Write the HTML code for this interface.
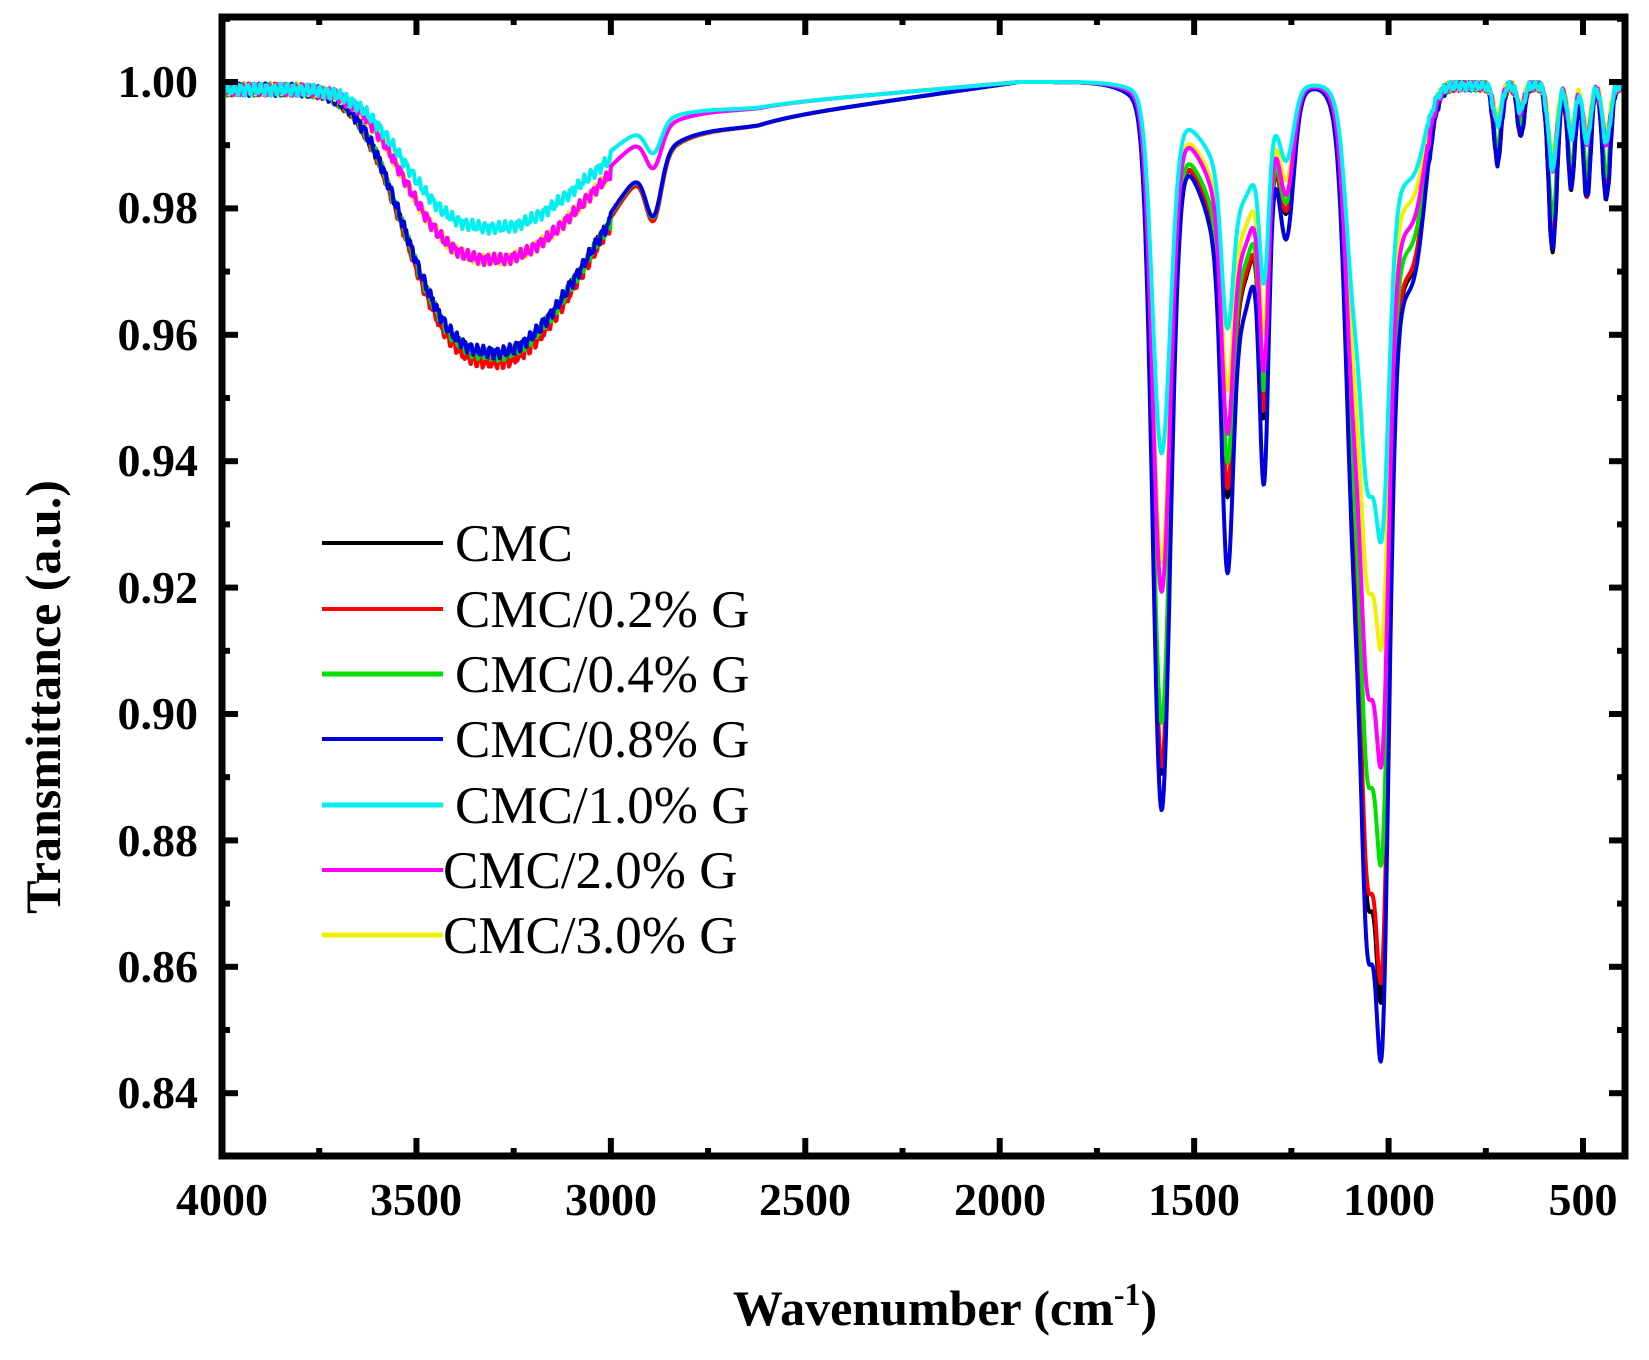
<!DOCTYPE html>
<html><head><meta charset="utf-8"><style>
html,body{margin:0;padding:0;background:#fff;}
svg{display:block;}
text{font-family:"Liberation Serif",serif;}
</style></head><body>
<svg id="s" width="1649" height="1360" viewBox="0 0 1649 1360" xmlns="http://www.w3.org/2000/svg">
<rect width="1649" height="1360" fill="#fff"/>
<g id="curves"></g>
<g id="axes"></g>
<g font-weight="bold" font-size="46" text-anchor="end" fill="#000">
<text x="198" y="97">1.00</text><text x="198" y="223">0.98</text><text x="198" y="350">0.96</text>
<text x="198" y="476">0.94</text><text x="198" y="603">0.92</text><text x="198" y="729">0.90</text>
<text x="198" y="856">0.88</text><text x="198" y="982">0.86</text><text x="198" y="1108">0.84</text>
</g>
<g font-weight="bold" font-size="46" text-anchor="middle" fill="#000">
<text x="222" y="1215">4000</text><text x="416" y="1215">3500</text><text x="611" y="1215">3000</text>
<text x="805" y="1215">2500</text><text x="1000" y="1215">2000</text><text x="1194" y="1215">1500</text>
<text x="1389" y="1215">1000</text><text x="1583" y="1215">500</text>
</g>
<text x="945" y="1325" font-weight="bold" font-size="50" text-anchor="middle">Wavenumber (cm<tspan dy="-20" font-size="32">-1</tspan><tspan dy="20">)</tspan></text>
<text transform="translate(60,697) rotate(-90)" font-weight="bold" font-size="50" text-anchor="middle">Transmittance (a.u.)</text>
<g font-size="53" fill="#000">
<line x1="322" y1="543" x2="443" y2="543" stroke="#000" stroke-width="4"/><text x="455" y="561">CMC</text>
<line x1="322" y1="609" x2="443" y2="609" stroke="#f00" stroke-width="4"/><text x="455" y="627">CMC/0.2% G</text>
<line x1="322" y1="674" x2="443" y2="674" stroke="#00e000" stroke-width="5"/><text x="455" y="692">CMC/0.4% G</text>
<line x1="322" y1="739" x2="443" y2="739" stroke="#0000e0" stroke-width="4"/><text x="455" y="757">CMC/0.8% G</text>
<line x1="322" y1="805" x2="443" y2="805" stroke="#00f0f0" stroke-width="5"/><text x="455" y="823">CMC/1.0% G</text>
<line x1="322" y1="870" x2="443" y2="870" stroke="#ff00ff" stroke-width="4"/><text x="443" y="888">CMC/2.0% G</text>
<line x1="322" y1="935" x2="443" y2="935" stroke="#f0f000" stroke-width="5"/><text x="443" y="953">CMC/3.0% G</text>
</g>
</svg>
<script>
(function(){
var X=function(w){return 222+(4000-w)*0.38886;};
var Y=function(t){return 82+(1-t)*6320;};
var ax=document.getElementById('axes');
var h='<rect x="222" y="17" width="1403" height="1139" fill="none" stroke="#000" stroke-width="7"/>';
for(var k=83;k<=101;k++){var t=k/100;var y=Y(t);var maj=k%2==0;var L=maj?16:8;
h+='<line x1="222" y1="'+y+'" x2="'+(222+L)+'" y2="'+y+'" stroke="#000" stroke-width="6"/>';
h+='<line x1="1625" y1="'+y+'" x2="'+(1625-L)+'" y2="'+y+'" stroke="#000" stroke-width="6"/>';}
for(var w=4000;w>=400;w-=250){var x=X(w);var maj=w%500==0;var L=maj?18:8;
h+='<line x1="'+x+'" y1="1156" x2="'+x+'" y2="'+(1156-L)+'" stroke="#000" stroke-width="6"/>';
h+='<line x1="'+x+'" y1="17" x2="'+x+'" y2="'+(17+L)+'" stroke="#000" stroke-width="6"/>';}
ax.innerHTML=h;
var cols=["#000","#f00","#00e000","#0000e0","#00f0f0","#ff00ff","#f0f000"];
var mOH=[1,1.03,1,0.99,0.52,0.64,0.64];
var m1590=[0.95,0.94,0.88,1,0.51,0.70,0.66];
var m14=[0.82,0.8,0.75,1,0.5,0.72,0.62];
var m10=[0.94,0.92,0.8,1,0.47,0.7,0.58];
var mLow=[1,0.95,0.8,1,0.5,0.5,0.4];
function g(w,c,s,a){var d=(w-c)/s;return a*Math.exp(-d*d);}
function T(w,i){
 var v=0;
 var d=w-3290;
 if(d>0){v+=0.042*mOH[i]*Math.exp(-Math.pow(d/280,3));}
 else {var e=d/340; v+=0.042*mOH[i]*Math.exp(-e*e);}
 v+=g(w,2890,28,0.009*mOH[i]);
 var off=0.006*(i>3?0.6:1);
 if(w<2620&&w>1950) v+=off*(w-1950)/670;
 if(w>=2620) v+=off*Math.exp(-Math.pow((w-2620)/250,2));
 v+=g(w,1450,150,0.016*m1590[i]);
 v+=g(w,1380,70,0.025*m14[i]);
 v+=g(w,1584,32,0.108*m1590[i]);
 v+=g(w,1415,20,0.043*m14[i]);
 v+=g(w,1320,16,0.044*m14[i]);
 v+=g(w,1262,25,0.02*m14[i]);
 v+=g(w,1030,70,0.06*m10[i]);
 v+=g(w,1017,24,0.092*m10[i]);
 v+=g(w,1055,22,0.068*m10[i]);
 v+=g(w,1090,28,0.045*m10[i]);
 v+=g(w,930,40,0.022*m10[i]);
 v+=g(w,720,14,0.012*mLow[i]);
 v+=g(w,660,12,0.008*mLow[i]);
 v+=g(w,578,15,0.026*mLow[i]);
 v+=g(w,530,13,0.016*mLow[i]);
 v+=g(w,490,13,0.018*mLow[i]);
 v+=g(w,440,14,0.018*mLow[i]);
 var n=0.0006*Math.sin(w*0.37+i*1.7)+0.0004*Math.sin(w*0.83+i*2.3);
 if(w>3000) v+=0.0012+n;
 else if(w<900) v+=0.0006+n*0.8;
 var r=1-v; if(r>1)r=1; return r;
}
var cg=document.getElementById('curves');var out='';
[0,1,2,3,6,5,4].forEach(function(i){
 var d='';for(var w=4000;w>=395;w-=2){var x=X(w),y=Y(T(w,i));d+=(d?'L':'M')+x.toFixed(1)+' '+y.toFixed(1);}
 out+='<path d="'+d+'" fill="none" stroke="'+cols[i]+'" stroke-width="4" stroke-linejoin="round"/>';
});
cg.innerHTML=out;
})();
</script>
</body></html>
